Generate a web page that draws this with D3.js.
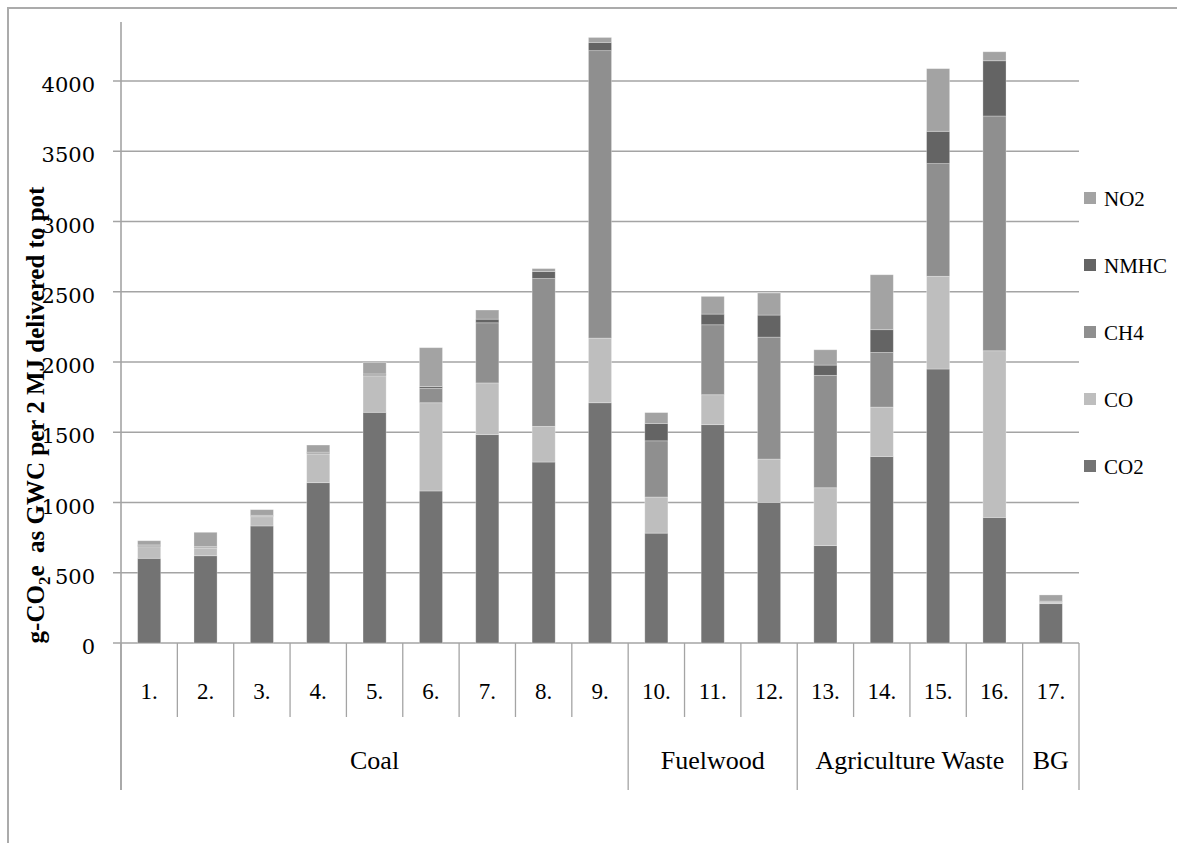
<!DOCTYPE html>
<html>
<head>
<meta charset="utf-8">
<script src="https://cdn.jsdelivr.net/npm/d3@7"></script>
<style>
  html, body { margin: 0; padding: 0; background: #fff; }
  svg { display: block; }
  text { fill: #000; }
</style>
</head>
<body>
<svg id="chart" width="1177" height="843"></svg>
<script>
// Stove / fuel cases along the x axis
const categories = ["1.", "2.", "3.", "4.", "5.", "6.", "7.", "8.", "9.",
                    "10.", "11.", "12.", "13.", "14.", "15.", "16.", "17."];
// Fuel groups and how many cases each one spans
const groupNames  = ["Coal", "Fuelwood", "Agriculture Waste", "BG"];
const groupCounts = [9, 3, 4, 1];

// Series, stacked bottom to top
const seriesKeys = ["CO2", "CO", "CH4", "NMHC", "NO2"];
const CO2  = [603, 621, 833, 1141, 1642, 1082, 1483, 1288, 1710, 782, 1554, 1001, 693, 1328, 1950, 894, 280];
const CO   = [82, 53, 66, 204, 259, 628, 368, 254, 460, 257, 213, 308, 412, 351, 660, 1186, 10];
const CH4  = [8, 8, 6, 8, 8, 103, 428, 1052, 2046, 400, 498, 868, 800, 389, 802, 1671, 5];
const NMHC = [5, 5, 4, 5, 6, 12, 26, 50, 59, 124, 76, 157, 73, 162, 230, 393, 3];
const NO2  = [30, 101, 40, 51, 81, 277, 65, 21, 35, 77, 126, 157, 109, 391, 446, 64, 44];

const yTicks = [0, 500, 1000, 1500, 2000, 2500, 3000, 3500, 4000];

const colors = { CO2: "#737373", CO: "#bebebe", CH4: "#8f8f8f", NMHC: "#646464", NO2: "#a3a3a3" };

// Table for d3.stack
const table = categories.map((c, i) => ({
  cat: c, CO2: CO2[i], CO: CO[i], CH4: CH4[i], NMHC: NMHC[i], NO2: NO2[i]
}));

const svg = d3.select("#chart");

// Layout
const plotLeft = 121, plotRight = 1079, axisTop = 22, zeroY = 643;
const catLineBottom = 717, groupLineBottom = 790;

const x = d3.scaleBand().domain(categories).range([plotLeft, plotRight]).padding(0);
const y = d3.scaleLinear().domain([0, 4000]).range([zeroY, 81]);
const barW = x.bandwidth() * 0.41;

// Outer frame (left and top edges)
svg.append("path")
  .attr("d", `M8,843 V8 H1177`)
  .attr("fill", "none").attr("stroke", "#ababab").attr("stroke-width", 2);

// Horizontal gridlines with short ticks on the left
svg.append("g").selectAll("line").data(yTicks).join("line")
  .attr("x1", plotLeft - 8).attr("x2", plotRight)
  .attr("y1", d => y(d)).attr("y2", d => y(d))
  .attr("stroke", "#a4a4a4").attr("stroke-width", 1.6);

// Y tick labels
svg.append("g").selectAll("text").data(yTicks).join("text")
  .attr("x", 95).attr("y", d => y(d) + 11)
  .attr("text-anchor", "end")
  .style("font-family", "'DejaVu Serif', serif")
  .style("font-size", "21px")
  .text(d => d);

// Y axis line
svg.append("line")
  .attr("x1", plotLeft).attr("x2", plotLeft).attr("y1", axisTop).attr("y2", groupLineBottom)
  .attr("stroke", "#a4a4a4").attr("stroke-width", 1.6);

// Stacked bars
const stacked = d3.stack().keys(seriesKeys)(table);
svg.append("g").selectAll("g").data(stacked).join("g")
  .attr("fill", d => colors[d.key])
  .selectAll("rect").data(d => d).join("rect")
  .attr("x", d => x(d.data.cat) + (x.bandwidth() - barW) / 2)
  .attr("width", barW)
  .attr("y", d => y(d[1]))
  .attr("height", d => y(d[0]) - y(d[1]))
  .attr("stroke", "rgba(255,255,255,0.35)")
  .attr("stroke-width", 0.8);

// Category separators and labels
let acc = 0;
const groupStarts = groupCounts.map(n => { const s = acc; acc += n; return s; });
const groupEdges = new Set(groupStarts.concat([categories.length]));
const boundaries = d3.range(categories.length + 1);

const catStep = x.step();
svg.append("g").selectAll("line").data(boundaries).join("line")
  .attr("x1", i => plotLeft + i * catStep).attr("x2", i => plotLeft + i * catStep)
  .attr("y1", zeroY)
  .attr("y2", i => groupEdges.has(i) ? groupLineBottom : catLineBottom)
  .attr("stroke", "#a4a4a4").attr("stroke-width", 1.3);

svg.append("g").selectAll("text").data(categories).join("text")
  .attr("x", d => x(d) + x.bandwidth() / 2)
  .attr("y", 699)
  .attr("text-anchor", "middle")
  .style("font-family", "'Liberation Serif', serif")
  .style("font-size", "23px")
  .text(d => d);

// Group labels
svg.append("g").selectAll("text").data(groupNames).join("text")
  .attr("x", (d, i) => plotLeft + (groupStarts[i] + groupCounts[i] / 2) * catStep)
  .attr("y", 769)
  .attr("text-anchor", "middle")
  .style("font-family", "'Liberation Serif', serif")
  .style("font-size", "26px")
  .text(d => d);

// Y axis title
const title = svg.append("text")
  .attr("transform", "translate(44,415) rotate(-90)")
  .attr("text-anchor", "middle")
  .style("font-family", "'Liberation Serif', serif")
  .style("font-weight", "bold")
  .style("font-size", "25px")
  .style("white-space", "pre");
title.append("tspan").text("g-CO");
title.append("tspan").attr("dy", 6).style("font-size", "17px").text("2");
title.append("tspan").attr("dy", -6).text("e  as GWC per 2 MJ delivered to pot");

// Legend, top entry is the last stacked series
const legendKeys = seriesKeys.slice().reverse();
const legend = svg.append("g").selectAll("g").data(legendKeys).join("g")
  .attr("transform", (d, i) => `translate(1084,${192 + i * 67})`);
legend.append("rect")
  .attr("width", 12).attr("height", 12)
  .attr("fill", d => colors[d]);
legend.append("text")
  .attr("x", 20).attr("y", 14)
  .style("font-family", "'Liberation Serif', serif")
  .style("font-size", "21px")
  .text(d => d);
</script>
</body>
</html>
